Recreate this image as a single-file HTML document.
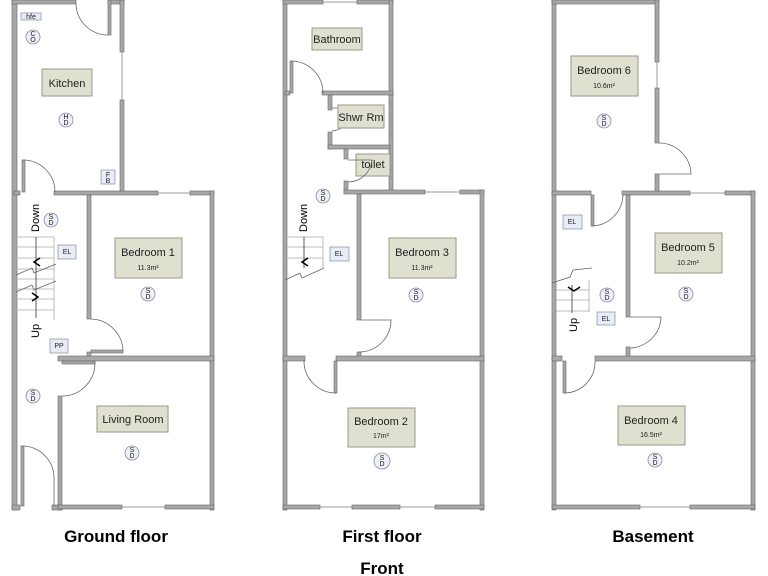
<!DOCTYPE html>
<html><head><style>
html,body{margin:0;padding:0;background:#fff;}
svg{display:block;font-family:"Liberation Sans",sans-serif;}
.w{fill:#a8a8a8;stroke:#666;stroke-width:0.6}
.win{stroke:#999;stroke-width:1;fill:none}
.rm{fill:#dfe0cf;stroke:#9a9a8a;stroke-width:1}
.t{font-size:11px;fill:#222;text-anchor:middle}
.s{font-size:7px;fill:#222;text-anchor:middle}
.sd{fill:#eef0f8;stroke:#8a8aa0;stroke-width:0.8}
.d{fill:none;stroke:#666;stroke-width:0.8}
.b{font-size:17px;font-weight:bold;fill:#000;text-anchor:middle}
.st{stroke:#aaa;stroke-width:0.8}
.bx{fill:#e8ecf6;stroke:#8a8aa0;stroke-width:0.7}
</style></head><body>
<svg width="768" height="576" viewBox="0 0 768 576">
<!-- GROUND FLOOR -->
<rect class="w" x="12" y="0" width="5" height="510"/>
<rect class="w" x="12" y="0" width="64" height="4"/>
<rect class="w" x="108" y="0" width="16" height="4"/>
<rect class="w" x="108" y="0" width="3" height="35"/>
<path class="d" d="M108 35 A32 32 0 0 1 76 3"/>
<rect class="w" x="120" y="0" width="4" height="52"/>
<line class="win" x1="122" y1="52" x2="122" y2="100"/>
<rect class="w" x="120" y="100" width="4" height="93"/>
<rect class="w" x="14" y="191" width="6" height="4"/>
<rect class="w" x="54" y="191" width="104" height="4"/>
<line class="win" x1="158" y1="193" x2="190" y2="193"/>
<rect class="w" x="190" y="191" width="24" height="4"/>
<rect class="w" x="22" y="160" width="3" height="32"/>
<path class="d" d="M23 160 A32 32 0 0 1 55 192"/>
<rect class="w" x="87" y="195" width="4" height="124"/>
<rect class="w" x="87" y="352" width="4" height="8"/>
<rect class="w" x="91" y="350" width="32" height="3"/>
<path class="d" d="M91 319 A33 33 0 0 1 123 351"/>
<rect class="w" x="210" y="191" width="4" height="319"/>
<rect class="w" x="58" y="356" width="156" height="5"/>
<rect class="w" x="62" y="361" width="33" height="3"/>
<path class="d" d="M95 362 A33 33 0 0 1 62 396"/>
<rect class="w" x="58" y="396" width="4" height="114"/>
<rect class="w" x="12" y="505" width="8" height="5"/>
<rect class="w" x="52" y="505" width="10" height="5"/>
<rect class="w" x="58" y="505" width="64" height="4"/>
<line class="win" x1="122" y1="507" x2="165" y2="507"/>
<rect class="w" x="165" y="505" width="49" height="4"/>
<rect class="w" x="21" y="446" width="3" height="60"/>
<path class="d" d="M22 446 A32 32 0 0 1 54 478 L54 506"/>
<!-- stairs ground -->
<g class="st">
<line x1="16" y1="237" x2="54" y2="237"/><line x1="16" y1="247" x2="54" y2="247"/><line x1="16" y1="258" x2="54" y2="258"/><line x1="16" y1="269" x2="54" y2="269"/><line x1="16" y1="279" x2="54" y2="279"/><line x1="16" y1="289" x2="54" y2="289"/><line x1="16" y1="299" x2="54" y2="299"/><line x1="16" y1="310" x2="54" y2="310"/>
<line x1="54" y1="237" x2="54" y2="320"/>
</g>
<path class="d" d="M16 275 L32 268 L34 273 L56 264 M16 292 L32 285 L34 290 L56 281"/>
<line x1="36" y1="237" x2="36" y2="318" stroke="#333" stroke-width="0.8"/>
<path d="M40 258 L34 262 L40 266" fill="none" stroke="#000" stroke-width="1.5"/>
<path d="M32 293 L38 297 L32 301" fill="none" stroke="#000" stroke-width="1.5"/>
<text x="0" y="0" font-size="11" transform="translate(39,232) rotate(-90)">Down</text>
<text x="0" y="0" font-size="11" transform="translate(39,338) rotate(-90)">Up</text>
<rect class="bx" x="21" y="13" width="20" height="7"/><text class="s" x="31" y="19" font-size="4">hfe</text>
<circle class="sd" cx="33" cy="37" r="7"/><text class="s" x="33" y="36" font-size="5">C</text><text class="s" x="33" y="42" font-size="5">O</text>
<rect class="rm" x="42" y="69" width="50" height="27"/><text class="t" x="67" y="87">Kitchen</text>
<circle class="sd" cx="66" cy="120" r="7"/><text class="s" x="66" y="119" font-size="5">H</text><text class="s" x="66" y="125" font-size="5">D</text>
<rect class="bx" x="101" y="170" width="14" height="14"/><text class="s" x="108" y="177" font-size="4">F</text><text class="s" x="108" y="183" font-size="4">B</text>
<circle class="sd" cx="51" cy="220" r="7"/><text class="s" x="51" y="219" font-size="5">S</text><text class="s" x="51" y="225" font-size="5">D</text>
<rect class="bx" x="58" y="245" width="18" height="14"/><text class="s" x="67" y="254" font-size="5">EL</text>
<rect class="rm" x="115" y="238" width="67" height="40"/><text class="t" x="148" y="256">Bedroom 1</text><text class="s" x="148" y="270">11.3m²</text>
<circle class="sd" cx="148" cy="294" r="7"/><text class="s" x="148" y="293" font-size="5">S</text><text class="s" x="148" y="299" font-size="5">D</text>
<rect class="bx" x="50" y="339" width="18" height="14"/><text class="s" x="59" y="348" font-size="4">PP</text>
<circle class="sd" cx="33" cy="396" r="7"/><text class="s" x="33" y="395" font-size="5">S</text><text class="s" x="33" y="401" font-size="5">D</text>
<rect class="rm" x="97" y="406" width="71" height="26"/><text class="t" x="133" y="423">Living Room</text>
<circle class="sd" cx="132" cy="453" r="7"/><text class="s" x="132" y="452" font-size="5">S</text><text class="s" x="132" y="458" font-size="5">D</text>

<!-- FIRST FLOOR -->
<rect class="w" x="283" y="0" width="4" height="510"/>
<rect class="w" x="283" y="0" width="40" height="4"/>
<line class="win" x1="323" y1="2" x2="357" y2="2"/>
<rect class="w" x="357" y="0" width="36" height="4"/>
<rect class="w" x="389" y="0" width="4" height="192"/>
<line class="win" x1="391" y1="100" x2="391" y2="138"/>
<line class="win" x1="391" y1="150" x2="391" y2="180"/>
<rect class="w" x="285" y="91" width="5" height="4"/>
<rect class="w" x="322" y="91" width="71" height="4"/>
<rect class="w" x="290" y="61" width="3" height="32"/>
<path class="d" d="M291 61 A32 32 0 0 1 323 93"/>
<rect class="w" x="328" y="95" width="4" height="15"/>
<rect class="w" x="328" y="132" width="4" height="17"/>
<rect class="w" x="328" y="145" width="62" height="4"/>
<path class="d" d="M332 108 L352 108 A22 22 0 0 1 332 131"/>
<rect class="rm" x="338" y="105" width="46" height="23"/><text class="t" x="361" y="121" font-size="10">Shwr Rm</text>
<rect class="w" x="344" y="149" width="4" height="10"/>
<rect class="w" x="344" y="181" width="4" height="12"/>
<rect class="rm" x="356" y="154" width="34" height="22"/><text class="t" x="373" y="168" font-size="10">toilet</text>
<path class="d" d="M348 160 L372 160 A24 24 0 0 1 348 182"/>
<rect class="w" x="344" y="190" width="81" height="4"/>
<line class="win" x1="425" y1="192" x2="460" y2="192"/>
<rect class="w" x="460" y="190" width="24" height="4"/>
<rect class="w" x="357" y="194" width="4" height="126"/>
<rect class="w" x="357" y="352" width="4" height="6"/>
<path class="d" d="M361 320 L391 320 A32 32 0 0 1 359 352"/>
<rect class="w" x="480" y="190" width="4" height="320"/>
<rect class="w" x="283" y="356" width="22" height="5"/>
<rect class="w" x="336" y="356" width="148" height="5"/>
<rect class="w" x="334" y="361" width="3" height="32"/>
<path class="d" d="M304 360 A32 32 0 0 0 336 393"/>
<rect class="w" x="283" y="505" width="37" height="4"/>
<line class="win" x1="320" y1="507" x2="352" y2="507"/>
<rect class="w" x="352" y="505" width="48" height="4"/>
<line class="win" x1="400" y1="507" x2="435" y2="507"/>
<rect class="w" x="435" y="505" width="49" height="4"/>
<rect class="rm" x="312" y="28" width="50" height="22"/><text class="t" x="337" y="43" font-size="10">Bathroom</text>
<circle class="sd" cx="323" cy="196" r="7"/><text class="s" x="323" y="195" font-size="5">S</text><text class="s" x="323" y="201" font-size="5">D</text>
<g class="st"><line x1="287" y1="237" x2="323" y2="237"/><line x1="287" y1="247" x2="323" y2="247"/><line x1="287" y1="258" x2="323" y2="258"/><line x1="323" y1="237" x2="323" y2="268"/></g>
<path class="d" d="M285 280 L300 273 L302 278 L324 268"/>
<line x1="304" y1="237" x2="304" y2="268" stroke="#333" stroke-width="0.8"/>
<path d="M308 258 L302 262 L308 266" fill="none" stroke="#000" stroke-width="1.5"/>
<text font-size="11" transform="translate(307,232) rotate(-90)">Down</text>
<rect class="bx" x="330" y="247" width="19" height="14"/><text class="s" x="339" y="256" font-size="5">EL</text>
<rect class="rm" x="389" y="238" width="67" height="40"/><text class="t" x="422" y="256">Bedroom 3</text><text class="s" x="422" y="270">11.3m²</text>
<circle class="sd" cx="416" cy="295" r="7"/><text class="s" x="416" y="294" font-size="5">S</text><text class="s" x="416" y="300" font-size="5">D</text>
<rect class="rm" x="348" y="408" width="67" height="39"/><text class="t" x="381" y="425">Bedroom 2</text><text class="s" x="381" y="438">17m²</text>
<circle class="sd" cx="382" cy="461" r="8"/><text class="s" x="382" y="460" font-size="5">S</text><text class="s" x="382" y="466" font-size="5">D</text>

<!-- BASEMENT -->
<rect class="w" x="552" y="0" width="4" height="510"/>
<rect class="w" x="552" y="0" width="107" height="4"/>
<rect class="w" x="655" y="0" width="4" height="62"/>
<line class="win" x1="657" y1="62" x2="657" y2="88"/>
<rect class="w" x="655" y="88" width="4" height="55"/>
<path class="d" d="M659 143 A32 32 0 0 1 691 174 L659 174"/>
<rect class="w" x="655" y="174" width="4" height="19"/>
<rect class="w" x="552" y="191" width="39" height="4"/>
<rect class="w" x="622" y="191" width="68" height="4"/>
<line class="win" x1="690" y1="193" x2="725" y2="193"/>
<rect class="w" x="725" y="191" width="30" height="4"/>
<rect class="w" x="591" y="195" width="3" height="31"/>
<path class="d" d="M592 226 A32 32 0 0 0 623 195"/>
<rect class="w" x="626" y="195" width="4" height="122"/>
<rect class="w" x="626" y="347" width="4" height="12"/>
<path class="d" d="M630 317 L661 317 A32 32 0 0 1 630 348"/>
<rect class="w" x="751" y="191" width="4" height="319"/>
<rect class="w" x="552" y="356" width="10" height="5"/>
<rect class="w" x="595" y="356" width="160" height="5"/>
<rect class="w" x="563" y="361" width="3" height="32"/>
<path class="d" d="M564 393 A31 31 0 0 0 595 361"/>
<rect class="w" x="552" y="505" width="88" height="4"/>
<line class="win" x1="640" y1="507" x2="690" y2="507"/>
<rect class="w" x="690" y="505" width="65" height="4"/>
<rect class="rm" x="571" y="56" width="67" height="40"/><text class="t" x="604" y="74">Bedroom 6</text><text class="s" x="604" y="88">10.6m²</text>
<circle class="sd" cx="604" cy="121" r="7"/><text class="s" x="604" y="120" font-size="5">S</text><text class="s" x="604" y="126" font-size="5">D</text>
<rect class="bx" x="563" y="215" width="19" height="14"/><text class="s" x="572" y="224" font-size="5">EL</text>
<g class="st"><line x1="556" y1="290" x2="589" y2="290"/><line x1="556" y1="300" x2="589" y2="300"/><line x1="556" y1="311" x2="589" y2="311"/><line x1="589" y1="280" x2="589" y2="312"/></g>
<path class="d" d="M552 283 L570 277 L573 270 L592 268"/>
<line x1="572" y1="285" x2="572" y2="313" stroke="#333" stroke-width="0.8"/>
<path d="M568 287 L574 291 L580 287" fill="none" stroke="#000" stroke-width="1.5"/>
<text font-size="11" transform="translate(577,332) rotate(-90)">Up</text>
<circle class="sd" cx="607" cy="295" r="7"/><text class="s" x="607" y="294" font-size="5">S</text><text class="s" x="607" y="300" font-size="5">D</text>
<rect class="bx" x="597" y="312" width="18" height="13"/><text class="s" x="606" y="321" font-size="5">EL</text>
<rect class="rm" x="655" y="233" width="67" height="40"/><text class="t" x="688" y="251">Bedroom 5</text><text class="s" x="688" y="265">10.2m²</text>
<circle class="sd" cx="686" cy="294" r="7"/><text class="s" x="686" y="293" font-size="5">S</text><text class="s" x="686" y="299" font-size="5">D</text>
<rect class="rm" x="618" y="406" width="67" height="39"/><text class="t" x="651" y="424">Bedroom 4</text><text class="s" x="651" y="437">16.5m²</text>
<circle class="sd" cx="655" cy="460" r="7"/><text class="s" x="655" y="459" font-size="5">S</text><text class="s" x="655" y="465" font-size="5">D</text>

<text class="b" x="116" y="542">Ground floor</text>
<text class="b" x="382" y="542">First floor</text>
<text class="b" x="653" y="542">Basement</text>
<text class="b" x="382" y="574">Front</text>
</svg>
</body></html>
